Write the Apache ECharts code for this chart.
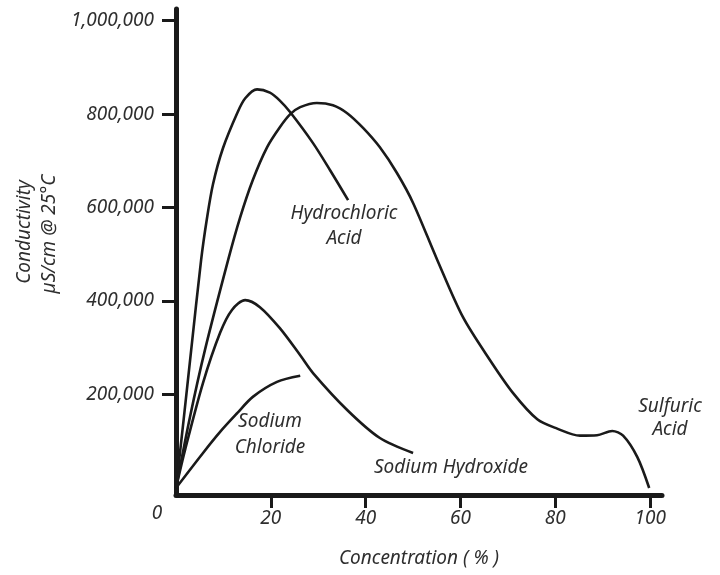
<!DOCTYPE html>
<html>
<head>
<meta charset="utf-8">
<script src="https://cdn.jsdelivr.net/npm/echarts@6/dist/echarts.min.js"></script>
<style>
  html, body { margin: 0; padding: 0; background: #fff; }
  #chart { width: 720px; height: 575px; }
</style>
</head>
<body>
<div id="chart"></div>
<script>
// concentration (%) vs conductivity (µS/cm)
const hydrochloric = [[0, 0], [1.6, 145000], [3.2, 295000], [5.3, 488000], [6.5, 575000], [7.8, 650000], [9.9, 727000], [12.9, 802000], [14.6, 834000], [17.1, 853000], [19.8, 846000], [21.9, 829000], [24.1, 804000], [28.9, 738000], [32.5, 680000], [36.3, 616000]];
const sulfuric = [[0, 0], [2.95, 152000], [6.1, 295000], [11.0, 488000], [13.5, 578000], [16.2, 659000], [19.2, 729000], [21.9, 772000], [24.1, 800000], [26.2, 815000], [29.7, 824000], [33.1, 819000], [36.1, 802000], [39.5, 770000], [43.0, 729000], [46.6, 674000], [50.0, 610000], [55.1, 488000], [60.5, 366000], [66.2, 274000], [71.1, 203000], [76.2, 147000], [80.4, 127000], [85.2, 112000], [88.8, 113000], [92.0, 122000], [94.3, 112000], [97.3, 66000], [99.8, 0]];
const sodiumHydroxide = [[0, 0], [1.9, 81000], [5.7, 225000], [9.3, 332000], [11.8, 381000], [14.6, 402000], [17.7, 387000], [21.9, 342000], [26.2, 284000], [28.9, 246000], [36.1, 167000], [43.0, 107000], [50.0, 75000]];
const sodiumChloride = [[0, 0], [5.7, 75000], [9.3, 120000], [12.9, 160000], [16.2, 195000], [21.3, 227000], [26.2, 240000]];

const xTicks = [20, 40, 60, 80, 100];
const yTicks = [200000, 400000, 600000, 800000, 1000000];

const font = 'italic 19px "Noto Sans", sans-serif';
const ink = '#1a1a1a';
const textInk = '#2e2e2e';

const chart = echarts.init(document.getElementById('chart'));

function line(name, data) {
    return {
        name: name,
        type: 'line',
        data: data,
        smooth: 0.3,
        symbol: 'none',
        clip: false,
        lineStyle: { color: ink, width: 2.6 }
    };
}

function label(text, x, y, lineHeight) {
    return {
        type: 'text',
        x: x,
        y: y,
        style: {
            text: text,
            font: font,
            fill: textInk,
            align: 'center',
            verticalAlign: 'middle',
            lineHeight: lineHeight || 22
        }
    };
}

const option = {
    animation: false,
    backgroundColor: '#fff',
    grid: { left: 176, right: 58, top: 9, bottom: 80 },
    xAxis: {
        type: 'value',
        min: 0,
        max: 102.5,
        name: 'Concentration ( % )',
        nameLocation: 'middle',
        nameGap: 54,
        nameTextStyle: { fontStyle: 'italic', fontSize: 19, fontFamily: 'Noto Sans', color: textInk },
        axisLine: { onZero: false, lineStyle: { color: ink, width: 5 } },
        axisTick: { customValues: xTicks, length: 13, lineStyle: { color: ink, width: 3 } },
        axisLabel: { customValues: xTicks, margin: 14, fontStyle: 'italic', fontSize: 19, fontFamily: 'Noto Sans', color: textInk },
        splitLine: { show: false }
    },
    yAxis: {
        type: 'value',
        min: -15000,
        max: 1025000,
        axisLine: { show: true, onZero: false, lineStyle: { color: ink, width: 5 } },
        axisTick: { show: true, customValues: yTicks, length: 14, lineStyle: { color: ink, width: 3 } },
        axisLabel: {
            customValues: yTicks,
            margin: 22,
            fontStyle: 'italic', fontSize: 19, fontFamily: 'Noto Sans', color: textInk,
            formatter: v => v.toLocaleString('en-US')
        },
        splitLine: { show: false }
    },
    series: [
        line('Hydrochloric Acid', hydrochloric),
        line('Sulfuric Acid', sulfuric),
        line('Sodium Hydroxide', sodiumHydroxide),
        line('Sodium Chloride', sodiumChloride)
    ],
    graphic: [
        label('0', 157, 514),
        label('Hydrochloric\nAcid', 344, 226, 25),
        label('Sodium\nChloride', 270, 435, 26),
        label('Sodium Hydroxide', 451, 468),
        label('Sulfuric\nAcid', 670, 418, 23),
        Object.assign(label('Conductivity', 25, 232), { rotation: Math.PI / 2 }),
        Object.assign(label('µS/cm @ 25°C', 50, 234), { rotation: Math.PI / 2 })
    ]
};

chart.setOption(option);
</script>
</body>
</html>
